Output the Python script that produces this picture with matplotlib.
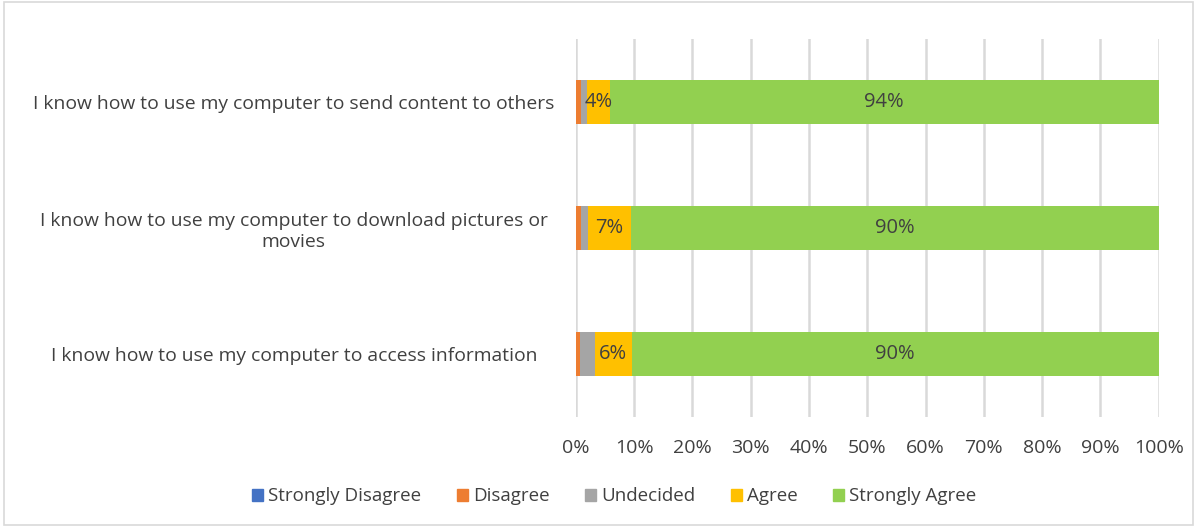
import matplotlib
matplotlib.use("Agg")
import matplotlib.pyplot as plt
from matplotlib.patches import Rectangle
import numpy as np

categories = [
    "I know how to use my computer to access information",
    "I know how to use my computer to download pictures or\nmovies",
    "I know how to use my computer to send content to others",
]
series_names = ["Strongly Disagree", "Disagree", "Undecided", "Agree", "Strongly Agree"]
strongly_disagree = [0.0, 0.0, 0.0]
disagree = [0.8, 0.9, 0.9]
undecided = [2.5, 1.2, 1.1]
agree = [6.3, 7.4, 3.8]
strongly_agree = [90.4, 90.5, 94.2]
agree_labels = ["6%", "7%", "4%"]
sa_labels = ["90%", "90%", "94%"]
colors = ["#4472C4", "#ED7D31", "#A5A5A5", "#FFC000", "#92D050"]

plt.rcParams['font.family'] = ['Open Sans', 'DejaVu Sans']

fig = plt.figure(figsize=(11.97, 5.27), dpi=100)
ax = fig.add_axes([0.481, 0.209, 0.487, 0.717])

data = [strongly_disagree, disagree, undecided, agree, strongly_agree]
y = np.arange(len(categories))
left = np.zeros(len(categories))
bars = []
for vals, name, c in zip(data, series_names, colors):
    b = ax.barh(y, vals, left=left, height=0.35, color=c, label=name, zorder=3)
    bars.append(b)
    left = left + np.array(vals)

ax.bar_label(bars[3], labels=agree_labels, label_type='center', fontsize=14.5, color='#404040')
ax.bar_label(bars[4], labels=sa_labels, label_type='center', fontsize=14.5, color='#404040')

ax.set_xlim(0, 100)
ax.set_ylim(-0.5, 2.5)
ax.set_xticks(np.arange(0, 101, 10))
ax.set_xticklabels([f"{v}%" for v in range(0, 101, 10)])
ax.set_yticks(y)
ax.set_yticklabels(categories, ha='center')
ax.tick_params(axis='y', length=0, pad=203, labelsize=13.9, labelcolor='#404040')
ax.tick_params(axis='x', length=0, pad=16, labelsize=14, labelcolor='#404040')
ax.grid(axis='x', color='#D9D9D9', linewidth=1.8, zorder=0)
for s in ax.spines.values():
    s.set_visible(False)

handles = [Rectangle((0, 0), 1, 1, color=c) for c in colors]
fig.legend(handles, series_names, loc='center', bbox_to_anchor=(0.513, 0.058), ncol=5,
           frameon=False, fontsize=13.5, handlelength=0.6, handleheight=0.6,
           handletextpad=0.25, columnspacing=1.9, labelcolor='#404040')

border = Rectangle((0.003, 0.004), 0.994, 0.992, transform=fig.transFigure,
                   fill=False, edgecolor='#D9D9D9', linewidth=1.2)
fig.add_artist(border)

fig.savefig("out.png", dpi=100, facecolor='white')
